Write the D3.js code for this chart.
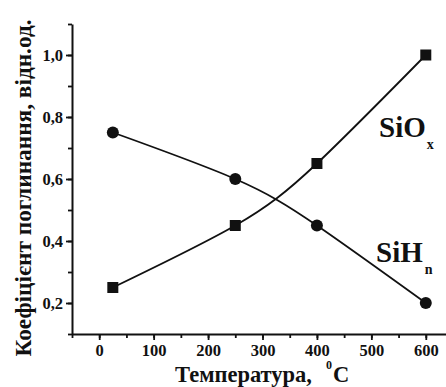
<!DOCTYPE html>
<html>
<head>
<meta charset="utf-8">
<script src="https://cdn.jsdelivr.net/npm/d3@7"></script>
<style>
  body { margin: 0; background: #fff; }
  svg text { font-family: "Liberation Serif", "Times New Roman", serif; font-weight: bold; fill: #111; }
</style>
</head>
<body>
<div class="chart"></div>
<script>
const temps = [25, 250, 400, 600];
const sioxValues = [0.25, 0.45, 0.65, 1.0];
const sihnValues = [0.75, 0.6, 0.45, 0.2];
const xTickValues = [0, 100, 200, 300, 400, 500, 600];
const yTickValues = [0.2, 0.4, 0.6, 0.8, 1.0];

const width = 446, height = 387;
const svg = d3.select('.chart').append('svg')
  .attr('width', width)
  .attr('height', height);

const xScale = d3.scaleLinear().domain([-50, 650]).range([72, 453]);
const yScale = d3.scaleLinear().domain([0.1, 1.1]).range([334, 24]);

// minor ticks first, then the major ones on top
svg.append('g')
  .attr('transform', 'translate(0,334)')
  .call(d3.axisBottom(xScale).tickValues(d3.range(-50, 651, 50)).tickSize(4).tickFormat(''))
  .call(g => g.select('.domain').remove());
svg.append('g')
  .attr('transform', 'translate(72,0)')
  .call(d3.axisLeft(yScale).tickValues(d3.range(1, 12).map(d => d / 10)).tickSize(4).tickFormat(''))
  .call(g => g.select('.domain').remove());

const xAxis = svg.append('g')
  .attr('transform', 'translate(0,334)')
  .call(d3.axisBottom(xScale).tickValues(xTickValues).tickSize(6).tickSizeOuter(0).tickPadding(4));
const yAxis = svg.append('g')
  .attr('transform', 'translate(72,0)')
  .call(d3.axisLeft(yScale).tickValues(yTickValues).tickSize(6).tickSizeOuter(0).tickPadding(3)
    .tickFormat(d => d3.format('.1f')(d).replace('.', ',')));

svg.selectAll('g').attr('font-family', null).attr('font-size', null);
svg.selectAll('.tick line').attr('stroke', '#111').attr('stroke-width', 1.8);
svg.selectAll('.domain').attr('stroke', '#111').attr('stroke-width', 2);
svg.selectAll('.tick text')
  .attr('font-size', 16.5)
  .attr('fill', '#111');

const line = d3.line()
  .x(d => xScale(d[0]))
  .y(d => yScale(d[1]))
  .curve(d3.curveNatural);

const siox = temps.map((t, i) => [t, sioxValues[i]]);
const sihn = temps.map((t, i) => [t, sihnValues[i]]);

svg.append('path').datum(siox)
  .attr('d', line).attr('fill', 'none').attr('stroke', '#111').attr('stroke-width', 1.8);
svg.append('path').datum(sihn)
  .attr('d', line).attr('fill', 'none').attr('stroke', '#111').attr('stroke-width', 1.8);

svg.selectAll('rect.sq').data(siox).enter().append('rect')
  .attr('class', 'sq')
  .attr('x', d => xScale(d[0]) - 5.5)
  .attr('y', d => yScale(d[1]) - 5.5)
  .attr('width', 11).attr('height', 11)
  .attr('fill', '#111');

svg.selectAll('circle.pt').data(sihn).enter().append('circle')
  .attr('class', 'pt')
  .attr('cx', d => xScale(d[0]))
  .attr('cy', d => yScale(d[1]))
  .attr('r', 6)
  .attr('fill', '#111');

// series labels
const sioxLabel = svg.append('text').attr('x', 379).attr('y', 137).attr('font-size', 29);
sioxLabel.append('tspan').text('SiO');
sioxLabel.append('tspan').attr('dx', 1).attr('dy', 12).attr('font-size', 14).text('x');

const sihnLabel = svg.append('text').attr('x', 376).attr('y', 262).attr('font-size', 29);
sihnLabel.append('tspan').text('SiH');
sihnLabel.append('tspan').attr('dx', 2).attr('dy', 12).attr('font-size', 14).text('n');

// axis titles
const xTitle = svg.append('text').attr('x', 175).attr('y', 382).attr('font-size', 22.5);
xTitle.append('tspan').text('Температура,');
xTitle.append('tspan').attr('dx', 14).attr('dy', -13).attr('font-size', 12).text('0');
xTitle.append('tspan').attr('dx', 1).attr('dy', 13).text('C');

svg.append('text')
  .attr('transform', 'translate(31,188) rotate(-90)')
  .attr('text-anchor', 'middle')
  .attr('font-size', 23.3)
  .text('Коефіцієнт поглинання, відн.од.');
</script>
</body>
</html>
